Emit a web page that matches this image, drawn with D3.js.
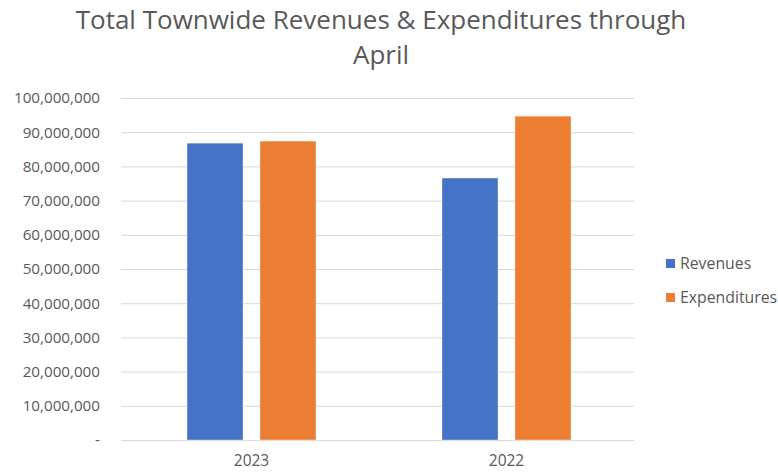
<!DOCTYPE html>
<html>
<head>
<meta charset="utf-8">
<script src="https://cdn.jsdelivr.net/npm/d3@7"></script>
<style>
  body { margin: 0; background: #fff; }
  text { font-family: "Open Sans", Lato, sans-serif; fill: #595959; }
  .grid line { stroke: #d9d9d9; }
  .grid .domain { display: none; }
</style>
</head>
<body>
<svg width="778" height="472"></svg>
<script>
const years = ["2023", "2022"];
const seriesNames = ["Revenues", "Expenditures"];
const revenues = [86800000, 76600000];
const expenditures = [87400000, 94700000];
const yTicks = [0, 10000000, 20000000, 30000000, 40000000, 50000000, 60000000, 70000000, 80000000, 90000000, 100000000];
const colors = ["#4472c4", "#ed7d31"];

const svg = d3.select("svg"),
  margin = { top: 98, right: 144, bottom: 32, left: 121 },
  width = +svg.attr("width") - margin.left - margin.right,
  height = +svg.attr("height") - margin.top - margin.bottom;

const g = svg.append("g").attr("transform", `translate(${margin.left},${margin.top})`);

const data = years.map((y, i) => ({ year: y, values: [revenues[i], expenditures[i]] }));

const x = d3.scaleBand().domain(years).range([3, width]);
const x1 = d3.scaleBand().domain(seriesNames).range([0, 129]).paddingInner(15 / 64.5);
const y = d3.scaleLinear().domain([0, 100000000]).range([height, 0]);

g.append("g")
  .attr("class", "grid")
  .call(d3.axisLeft(y).tickValues(yTicks).tickSize(-width).tickFormat(""))
  .selectAll("line").attr("stroke", "#d9d9d9");

// y labels
g.selectAll(".ylab")
  .data(yTicks)
  .enter()
  .append("text")
  .attr("x", -21)
  .attr("y", d => y(d))
  .attr("dy", "0.35em")
  .attr("text-anchor", "end")
  .style("font-size", "15.2px")
  .text(d => d === 0 ? "-" : d3.format(",")(d));

const groups = g.selectAll(".grp")
  .data(data)
  .enter()
  .append("g")
  .attr("transform", d => `translate(${x(d.year) + x.bandwidth() / 2 - 64.5},0)`);

groups.selectAll("rect")
  .data(d => d.values.map((v, i) => ({ key: seriesNames[i], v, i })))
  .enter()
  .append("rect")
  .attr("x", d => x1(d.key))
  .attr("y", d => y(d.v))
  .attr("width", x1.bandwidth())
  .attr("height", d => height - y(d.v))
  .attr("fill", d => colors[d.i])
  .attr("stroke", "#fff")
  .attr("stroke-opacity", 0.5)
  .attr("stroke-width", 0.75);

// x labels
g.selectAll(".xlab")
  .data(years)
  .enter()
  .append("text")
  .attr("x", d => x(d) + x.bandwidth() / 2)
  .attr("y", height + 26)
  .attr("text-anchor", "middle")
  .style("font-size", "15.5px")
  .text(d => d);

// title
svg.append("text")
  .attr("x", 381)
  .attr("y", 29)
  .attr("text-anchor", "middle")
  .style("font-size", "26px")
  .text("Total Townwide Revenues & Expenditures through");
svg.append("text")
  .attr("x", 381)
  .attr("y", 64)
  .attr("text-anchor", "middle")
  .style("font-size", "26px")
  .text("April");

// legend
const legend = svg.selectAll(".legend")
  .data(seriesNames)
  .enter()
  .append("g")
  .attr("transform", (d, i) => `translate(666,${259 + i * 34})`);
legend.append("rect")
  .attr("width", 9).attr("height", 9)
  .attr("fill", (d, i) => colors[i]);
legend.append("text")
  .attr("x", 14)
  .attr("y", 4.5)
  .attr("dy", "0.35em")
  .style("font-size", "15.8px")
  .text(d => d);
</script>
</body>
</html>
